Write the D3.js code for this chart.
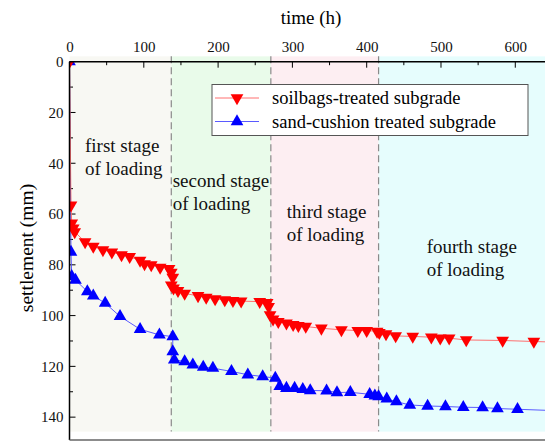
<!DOCTYPE html>
<html>
<head>
<meta charset="utf-8">
<script src="https://cdn.jsdelivr.net/npm/d3@7"></script>
<style>
  body { margin: 0; background: #fff; }
</style>
</head>
<body>
<div class="canvas"></div>
<script>
// settlement vs time, two subgrade treatments
const redTime = [0, 2, 3, 5, 7, 21, 32, 45, 57, 70, 81, 95, 101, 110, 122, 134, 137, 139, 137, 140, 146, 155, 173, 184, 196, 209, 220, 231, 256, 266, 268, 270, 274, 281, 292, 301, 308, 318, 339, 366, 388, 400, 414, 417, 426, 439, 462, 487, 499, 511, 534, 583, 625, 660]
const redSettle = [0, 56.5, 63.6, 65.6, 67, 71, 72.8, 74.1, 75, 76.1, 76.8, 78.3, 79.6, 80, 81, 81.5, 83, 85, 88, 89.2, 90.2, 91.3, 92.2, 92.8, 93.4, 93.8, 94.1, 94.3, 94.5, 94.9, 96.5, 99.7, 101.4, 102.4, 103, 103.6, 104, 104.3, 105, 105.6, 105.9, 105.9, 106.2, 106.7, 107.2, 108, 108.2, 108.5, 108.9, 108.9, 109.6, 109.8, 110.2, 110.5]

const blueTime = [0, 2, 3, 8, 24, 32, 48, 68, 95, 121, 139, 139, 141, 155, 166, 180, 193, 218, 240, 260, 277, 283, 292, 303, 314, 324, 346, 360, 378, 404, 411, 416, 427, 440, 458, 482, 506, 530, 556, 576, 603, 660]
const blueSettle = [0, 75, 84.5, 86, 90.5, 92.2, 95.1, 100.3, 105.4, 107.6, 108.3, 114.2, 117.4, 118.1, 119.4, 120.3, 120.7, 122, 123.3, 124, 124.6, 127.9, 128.6, 128.6, 129, 129.5, 129.6, 130.3, 130.2, 131, 131.6, 131.9, 132.8, 133.9, 135.2, 135.6, 135.8, 136.1, 136.2, 136.6, 136.9, 137.5]

const stageBounds = [0, 137, 271, 416, 640]
const stageColors = ['#f8f8f3', '#e9fbea', '#fdeef2', '#e6fdfd']
const stageLabels = [['first stage', 'of loading'], ['second stage', 'of loading'], ['third stage', 'of loading'], ['fourth stage', 'of loading']]
const xTicks = [0, 100, 200, 300, 400, 500, 600]
const yTicks = [0, 20, 40, 60, 80, 100, 120, 140]
const seriesNames = ['soilbags-treated subgrade', 'sand-cushion treated subgrade']

const font = "'Liberation Serif', 'DejaVu Serif', serif"
const width = 545, height = 442
const margin = {top: 61.7, right: 0, bottom: 2, left: 69.5}
const graphWidth = width - margin.left - margin.right
const graphHeight = height - margin.top - margin.bottom

const svg = d3.select('.canvas')
    .append('svg')
    .attr('width', width)
    .attr('height', height)

const graph = svg.append('g')
    .attr('transform', `translate(${margin.left}, ${margin.top})`)

const x = d3.scaleLinear().domain([0, 640]).range([0, graphWidth])
const y = d3.scaleLinear().domain([0, 149]).range([0, graphHeight])

svg.append('defs').append('clipPath').attr('id', 'clip')
    .append('rect').attr('width', graphWidth).attr('height', graphHeight)

// stage shading
for (let i = 0; i < 4; i++) {
    graph.append('rect')
        .attr('x', x(stageBounds[i]))
        .attr('y', y(-2.1))
        .attr('width', x(stageBounds[i + 1]) - x(stageBounds[i]))
        .attr('height', y(145.7) - y(-2.1))
        .attr('fill', stageColors[i])
}
stageBounds.slice(1, 4).forEach(b => {
    graph.append('line')
        .attr('x1', x(b)).attr('x2', x(b))
        .attr('y1', y(-2.1)).attr('y2', y(145.7))
        .attr('stroke', '#8a8a8a')
        .attr('stroke-width', 1.2)
        .attr('stroke-dasharray', '7,4')
})

// stage labels
const labelPos = [[15.5, 90.5], [103.2, 125], [217.2, 156.5], [357.2, 191.5]]
stageLabels.forEach((lines, i) => {
    const t = graph.append('text')
        .attr('x', labelPos[i][0])
        .attr('y', labelPos[i][1])
        .attr('font-size', 19)
        .attr('font-family', font)
        .attr('fill', '#111')
    lines.forEach((s, j) => {
        t.append('tspan').attr('x', labelPos[i][0]).attr('dy', j ? 23 : 0).text(s)
    })
})

// axes
const xAxis = d3.axisTop(x).tickValues(xTicks).tickSize(0).tickPadding(10)
const xAxisGroup = graph.append('g').call(xAxis).attr('font-family', font).attr('font-size', 15)
xAxisGroup.select('.domain').remove()
xAxisGroup.selectAll('text').attr('fill', '#111')

const yAxis = d3.axisLeft(y).tickValues(yTicks).tickSize(0).tickPadding(6)
const yAxisGroup = graph.append('g').call(yAxis).attr('font-family', font).attr('font-size', 15)
yAxisGroup.select('.domain').remove()
yAxisGroup.selectAll('text').attr('fill', '#111')

// inward ticks
d3.range(0, 641, 50).forEach(v => {
    graph.append('line')
        .attr('x1', x(v)).attr('x2', x(v))
        .attr('y1', 0).attr('y2', v % 100 === 0 ? 6 : 3.5)
        .attr('stroke', '#000')
})
d3.range(0, 149, 10).forEach(v => {
    graph.append('line')
        .attr('x1', 0).attr('x2', v % 20 === 0 ? 6 : 3.5)
        .attr('y1', y(v)).attr('y2', y(v))
        .attr('stroke', '#000')
})

// series
const redData = redTime.map((t, i) => [t, redSettle[i]])
const blueData = blueTime.map((t, i) => [t, blueSettle[i]])
const line = d3.line().x(d => x(d[0])).y(d => y(d[1]))
const plot = graph.append('g').attr('clip-path', 'url(#clip)')

plot.append('path').datum(blueData)
    .attr('d', line).attr('fill', 'none')
    .attr('stroke', '#5a5aff').attr('stroke-width', 1)
plot.selectAll('.up').data(blueData).enter()
    .append('path')
    .attr('d', d3.symbol(d3.symbolTriangle, 70))
    .attr('transform', d => `translate(${x(d[0])}, ${y(d[1])})`)
    .attr('fill', '#0000ff')

plot.append('path').datum(redData)
    .attr('d', line).attr('fill', 'none')
    .attr('stroke', '#ff7070').attr('stroke-width', 1)
plot.selectAll('.down').data(redData).enter()
    .append('path')
    .attr('d', d3.symbol(d3.symbolTriangle, 70))
    .attr('transform', d => `translate(${x(d[0])}, ${y(d[1])}) rotate(180)`)
    .attr('fill', '#ff0000')

// frame
graph.append('line').attr('x1', 0).attr('x2', graphWidth).attr('y1', 0).attr('y2', 0)
    .attr('stroke', '#000').attr('stroke-width', 1.5)
graph.append('line').attr('x1', 0).attr('x2', 0).attr('y1', 0).attr('y2', graphHeight)
    .attr('stroke', '#000').attr('stroke-width', 1.5)
graph.append('line').attr('x1', 0).attr('x2', graphWidth).attr('y1', graphHeight).attr('y2', graphHeight)
    .attr('stroke', '#666').attr('stroke-width', 1.5)

// axis titles
svg.append('text')
    .attr('x', 311).attr('y', 24)
    .attr('text-anchor', 'middle')
    .attr('font-size', 19)
    .attr('font-family', font)
    .text('time (h)')
svg.append('text')
    .attr('transform', 'translate(33, 248) rotate(-90)')
    .attr('text-anchor', 'middle')
    .attr('font-size', 19.5)
    .attr('font-family', font)
    .text('settlement (mm)')

// legend
const legend = svg.append('g').attr('transform', 'translate(212, 84.5)')
legend.append('rect')
    .attr('width', 316).attr('height', 51)
    .attr('fill', '#fff').attr('stroke', '#555').attr('stroke-width', 1)
const legendItems = [
    {name: seriesNames[0], line: '#ff7070', fill: '#ff0000', rot: 180},
    {name: seriesNames[1], line: '#5a5aff', fill: '#0000ff', rot: 0}
]
legendItems.forEach((it, i) => {
    const cy = 13.5 + i * 23.5
    legend.append('line').attr('x1', 3).attr('x2', 47).attr('y1', cy).attr('y2', cy)
        .attr('stroke', it.line).attr('stroke-width', 1)
    legend.append('path')
        .attr('d', d3.symbol(d3.symbolTriangle, 70))
        .attr('transform', `translate(25, ${cy}) rotate(${it.rot})`)
        .attr('fill', it.fill)
    legend.append('text')
        .attr('x', 60).attr('y', cy + 6)
        .attr('font-size', 18.5)
        .attr('font-family', font)
        .text(it.name)
})
</script>
</body>
</html>
